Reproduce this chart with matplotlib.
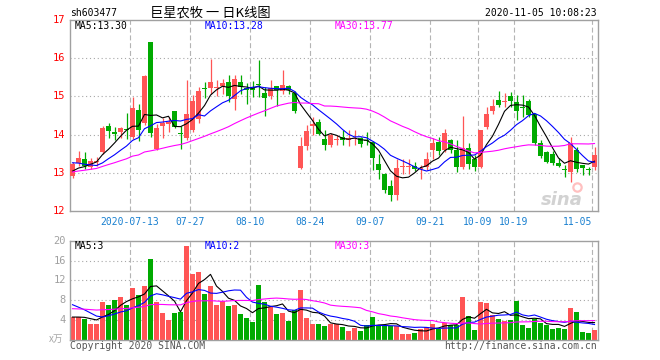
import matplotlib
matplotlib.use('Agg')
import matplotlib.pyplot as plt
import numpy as np
import pandas as pd

# ---------------- data ----------------
holidays = ['2020-10-01', '2020-10-02', '2020-10-05', '2020-10-06', '2020-10-07', '2020-10-08']
dates = [d.strftime('%Y-%m-%d') for d in pd.bdate_range('2020-06-29', '2020-11-05') if d.strftime('%Y-%m-%d') not in holidays]

opens = [12.91, 13.25, 13.35, 13.16, 13.28, 13.54, 14.22, 14.06, 14.06, 14.14,
         13.93, 14.64, 14.30, 16.42, 13.63, 14.23, 14.27, 14.61, 14.04, 13.90,
         14.12, 14.40, 15.22, 15.22, 15.22, 15.26, 15.38, 14.94, 15.38, 15.22,
         15.21, 15.33, 15.10, 15.00, 15.26, 15.13, 15.27, 15.08, 13.12, 13.70,
         14.22, 14.34, 13.88, 13.74, 13.86, 13.94, 13.86, 13.88, 13.90, 13.86,
         13.80, 13.23, 12.98, 12.65, 12.42, 13.15, 13.15, 13.18, 13.10, 13.16,
         13.60, 13.81, 13.60, 13.87, 13.60, 13.16, 13.66, 13.35, 13.16, 14.19,
         14.62, 14.90, 14.85, 15.01, 14.86, 14.73, 14.89, 14.55, 13.77, 13.55,
         13.49, 13.25, 13.10, 13.03, 13.60, 13.20, 13.10, 13.14]
highs = [13.28, 13.56, 13.55, 13.40, 13.42, 14.22, 14.30, 14.20, 14.21, 14.56,
         14.99, 14.81, 15.56, 16.43, 14.29, 14.43, 14.45, 14.62, 14.23, 15.42,
         15.03, 15.25, 15.38, 15.99, 15.42, 15.46, 15.55, 15.56, 15.55, 15.35,
         15.40, 15.95, 15.25, 15.44, 15.27, 15.68, 15.30, 15.15, 13.94, 14.25,
         14.45, 14.42, 14.12, 14.03, 14.00, 14.12, 14.12, 14.13, 13.94, 14.07,
         13.82, 13.49, 13.00, 12.81, 13.35, 13.35, 13.36, 13.28, 13.20, 13.55,
         13.90, 13.94, 14.14, 13.88, 13.87, 14.49, 13.79, 13.46, 14.13, 14.71,
         14.92, 15.15, 15.10, 15.12, 15.03, 15.03, 14.93, 14.56, 13.87, 13.56,
         13.56, 13.38, 13.20, 13.93, 13.68, 13.20, 13.16, 13.68]
lows = [12.87, 13.19, 13.10, 13.10, 13.18, 13.50, 13.92, 13.87, 13.90, 13.88,
        13.88, 13.83, 14.25, 13.93, 13.60, 13.92, 14.06, 14.18, 13.63, 13.87,
        14.06, 14.30, 14.97, 15.05, 15.00, 15.05, 14.85, 14.65, 15.05, 14.80,
        14.99, 14.98, 14.48, 14.92, 14.75, 15.05, 15.06, 14.57, 13.09, 13.60,
        13.99, 13.99, 13.60, 13.67, 13.72, 13.73, 13.70, 13.72, 13.68, 13.73,
        13.08, 12.83, 12.48, 12.27, 12.30, 12.98, 12.98, 13.04, 12.85, 13.07,
        13.35, 13.47, 13.55, 13.51, 13.03, 13.09, 13.09, 13.05, 13.12, 14.14,
        14.54, 14.73, 14.73, 14.73, 14.38, 14.47, 14.47, 13.73, 13.38, 13.26,
        13.20, 13.14, 12.90, 12.77, 13.03, 12.94, 12.94, 13.07]
closes = [13.22, 13.40, 13.19, 13.30, 13.31, 14.18, 14.10, 14.01, 14.18, 14.11,
          14.69, 14.12, 15.54, 14.05, 14.17, 14.31, 14.33, 14.21, 14.02, 14.55,
          14.88, 15.15, 15.20, 15.39, 15.24, 15.35, 15.00, 15.46, 15.25, 15.17,
          15.18, 15.30, 14.95, 15.22, 15.16, 15.31, 15.17, 14.61, 13.70, 14.10,
          14.27, 14.02, 13.74, 14.00, 13.88, 13.87, 13.90, 13.91, 13.76, 13.83,
          13.38, 13.08, 12.55, 12.42, 13.12, 13.17, 13.17, 13.10, 13.12, 13.35,
          13.79, 13.56, 14.05, 13.60, 13.16, 13.64, 13.23, 13.16, 14.12, 14.54,
          14.75, 14.77, 14.87, 14.89, 14.63, 14.70, 14.52, 13.77, 13.44, 13.29,
          13.26, 13.18, 13.08, 13.77, 13.09, 13.12, 13.08, 13.46]
volumes = [4.7, 4.6, 4.3, 3.3, 3.3, 7.7, 7.1, 8.1, 8.7, 7.1,
           10.5, 9.1, 10.9, 16.3, 7.7, 5.5, 4.1, 5.5, 5.6, 18.9,
           13.3, 13.7, 9.3, 10.9, 7.1, 7.9, 6.9, 7.1, 5.3, 4.5,
           3.7, 11.1, 7.7, 6.7, 5.3, 5.5, 3.9, 6.1, 10.1, 4.5,
           3.3, 3.3, 2.9, 3.3, 3.3, 2.7, 1.9, 2.5, 1.9, 3.1,
           4.7, 2.9, 2.9, 2.9, 2.9, 1.3, 1.3, 1.5, 2.3, 2.7,
           3.3, 2.3, 3.5, 3.1, 3.1, 8.7, 4.9, 2.1, 7.7, 7.5,
           5.1, 4.3, 3.9, 4.1, 7.9, 3.1, 2.5, 4.3, 3.5, 3.1,
           2.3, 2.5, 2.3, 6.5, 5.7, 1.7, 1.5, 2.1]

# closes / volumes of the 29 sessions before the window (only feed the moving averages)
hist_close = [12.6] * 10 + [13.2] * 10 + [13.48] * 5 + [13.0] * 4
hist_volume = [5.9] * 20 + [9.6] * 5 + [4.6] * 4

tick_dates = ['2020-07-13', '2020-07-27', '2020-08-10', '2020-08-24', '2020-09-07',
              '2020-09-21', '2020-10-09', '2020-10-19', '2020-11-05']
tick_labels = ['2020-07-13', '07-27', '08-10', '08-24', '09-07', '09-21', '10-09', '10-19', '11-05']
price_ticks = [12, 13, 14, 15, 16, 17]
volume_ticks = [4, 8, 12, 16, 20]

title = '巨星农牧 一 日K线图'
code = 'sh603477'
stamp = '2020-11-05 10:08:23'
ma_price_labels = ['MA5:13.30', 'MA10:13.28', 'MA30:13.77']
ma_volume_labels = ['MA5:3', 'MA10:2', 'MA30:3']

# ---------------- style ----------------
RED = '#ff5555'
GREEN = '#00aa00'
MA_COLORS = ['#000000', '#0000ff', '#ff00ff']
GRID = '#a8a8a8'
MONO = 'DejaVu Sans Mono'
CJK = ['Noto Sans CJK SC', 'DejaVu Sans']

W, H = 660, 360
fig = plt.figure(figsize=(W / 100, H / 100), dpi=100)
fig.patch.set_facecolor('white')


def fx(px):
    return px / W


def fy(py):
    return 1 - py / H


n = len(dates)
idx = np.arange(n)
bw = 5 / 6
ctr = idx + bw / 2
o = np.array(opens); h = np.array(highs); l = np.array(lows); c = np.array(closes)
v = np.array(volumes)
up = c >= o
colors = np.where(up, RED, GREEN)

allc = pd.Series(hist_close + closes)
allv = pd.Series(hist_volume + volumes)
k = len(hist_close)
ma_p = [allc.rolling(m).mean().values[k:] for m in (5, 10, 30)]
ma_v = [allv.rolling(m).mean().values[k:] for m in (5, 10, 30)]
tick_pos = [dates.index(d) for d in tick_dates]

ax = fig.add_axes([fx(70), fy(211), fx(598) - fx(70), fy(20) - fy(211)])
axv = fig.add_axes([fx(70), fy(340), fx(598) - fx(70), fy(240.7) - fy(340)])

for a, (lo, hi), hl in ((ax, (12, 17), [13, 14, 15, 16]), (axv, (0, 20), [4, 8, 12, 16])):
    a.set_xlim(0, n)
    a.set_ylim(lo, hi)
    a.set_xticks([]); a.set_yticks([])
    for s in a.spines.values():
        s.set_color('#a0a0a0'); s.set_linewidth(1.0)
    a.hlines(hl, 0, n, colors=GRID, linestyles=(0, (1, 2.5)), lw=0.8, zorder=0)
    a.vlines(tick_pos, lo, hi, colors='#b4b4b4', linestyles=(0, (4.5, 2.5)), lw=0.8, zorder=0)

# watermark (behind the marks)
ax.text(0.932, 0.06, 'sina', transform=ax.transAxes, fontsize=13, color='#d2d2d2',
        style='italic', weight='bold', ha='center', va='center', zorder=1)
ax.plot([0.96], [0.125], transform=ax.transAxes, marker='o', ms=6, mfc='none',
        mec='#ffc0c0', mew=1.6, zorder=1)

# candles
ax.vlines(ctr, l, h, colors=colors, lw=0.9, zorder=2)
body_lo = np.minimum(o, c)
body_h = np.maximum(np.abs(c - o), 0.03)
ax.bar(idx, body_h, bw, bottom=body_lo, align='edge', color=colors, lw=0, zorder=3)
for m, col in zip(ma_p, MA_COLORS):
    ax.plot(ctr, m, color=col, lw=0.8, zorder=4)

# volume
axv.bar(idx, v, bw, align='edge', color=colors, lw=0, zorder=2)
for m, col in zip(ma_v, MA_COLORS):
    axv.plot(ctr, m, color=col, lw=0.8, zorder=4)

# y tick labels
for t in price_ticks:
    fig.text(fx(65), fy(20 + (17 - t) * 191 / 5), str(t), color='#ff0000', fontsize=7.5,
             family=MONO, ha='right', va='center')
for t in volume_ticks:
    fig.text(fx(66), fy(340 - t * 99.3 / 20), str(t), color='#a0a0a0', fontsize=7.5,
             family=MONO, ha='right', va='center')
fig.text(fx(63), fy(339), 'x万', color='#a8a8a8', fontsize=7, family=CJK, style='italic',
         ha='right', va='center')

# x tick labels
for p, lab in zip(tick_pos, tick_labels):
    x = 70 + 6 * p
    ha = 'right' if p == n - 1 else 'center'
    fig.text(fx(x), fy(222), lab, color='#1a80d0', fontsize=7, family=MONO, ha=ha, va='center')

# header
fig.text(fx(70), fy(13), code, fontsize=7, family=MONO, ha='left', va='center')
fig.text(fx(150), fy(13), title, fontsize=9.5, family=CJK, ha='left', va='center')
fig.text(fx(597), fy(13), stamp, fontsize=7, family=MONO, ha='right', va='center')

for xpx, lab, col in zip((75, 205, 335), ma_price_labels, MA_COLORS):
    fig.text(fx(xpx), fy(26), lab, color=col, fontsize=7, family=MONO, ha='left', va='center')
for xpx, lab, col in zip((75, 205, 335), ma_volume_labels, MA_COLORS):
    fig.text(fx(xpx), fy(246), lab, color=col, fontsize=7, family=MONO, ha='left', va='center')

# footer
fig.text(fx(70), fy(346), 'Copyright 2020 SINA.COM', fontsize=7, family=MONO, color='#555555',
         ha='left', va='center')
fig.text(fx(597), fy(346), 'http://finance.sina.com.cn', fontsize=7, family=MONO, color='#555555',
         ha='right', va='center')

fig.savefig('out.png', dpi=100, facecolor='white')
